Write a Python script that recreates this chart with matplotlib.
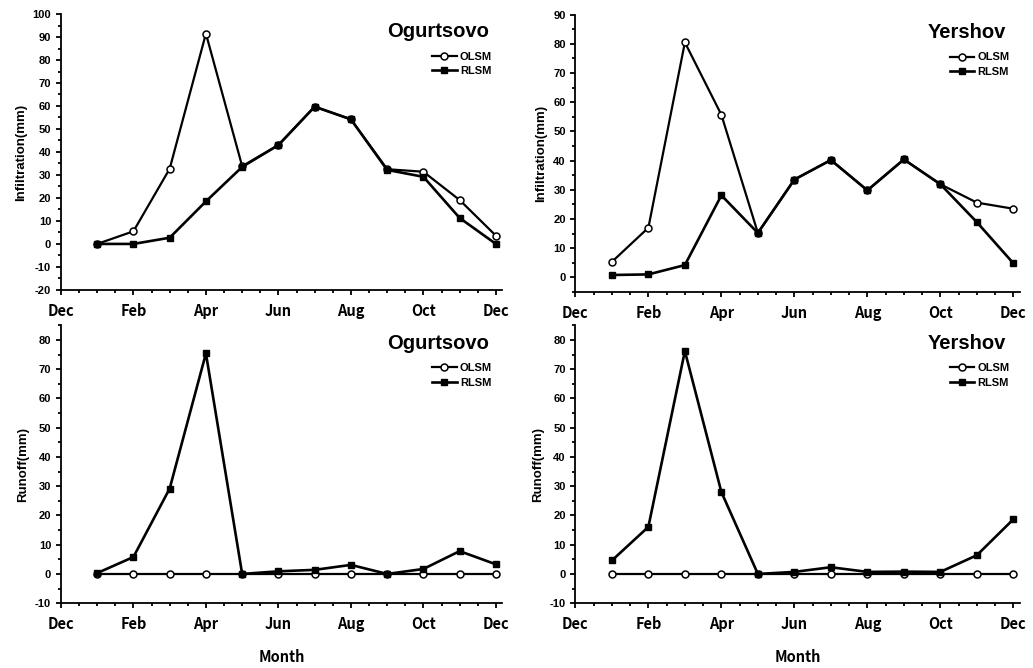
import numpy as np
import matplotlib.pyplot as plt
from matplotlib.ticker import MultipleLocator

plt.rcParams["font.family"] = ["Liberation Sans", "DejaVu Sans"]
plt.rcParams["font.weight"] = "bold"
plt.rcParams["axes.unicode_minus"] = False

# data
months = [1, 2, 3, 4, 5, 6, 7, 8, 9, 10, 11, 12]
tick_pos = [0, 2, 4, 6, 8, 10, 12]
tick_lab = ["Dec", "Feb", "Apr", "Jun", "Aug", "Oct", "Dec"]

ogu_inf_olsm = [0, 5.5, 32.7, 91.5, 33.8, 43, 59.7, 54.2, 32.5, 31.4, 19.1, 3.6]
ogu_inf_rlsm = [0, 0, 2.7, 18.5, 33.5, 43, 59.7, 54.2, 32.2, 29.2, 11.3, 0]
yer_inf_olsm = [5.3, 17, 80.5, 55.7, 15.2, 33.5, 40.2, 29.8, 40.4, 31.9, 25.6, 23.5]
yer_inf_rlsm = [0.8, 1, 4.2, 28.1, 15.2, 33.5, 40.2, 29.8, 40.4, 31.9, 18.9, 4.8]
ogu_run_olsm = [0, 0, 0, 0, 0, 0, 0, 0, 0, 0, 0, 0]
ogu_run_rlsm = [0.3, 5.8, 29.2, 75.4, 0, 0.9, 1.4, 3.1, 0, 1.7, 7.8, 3.3]
yer_run_olsm = [0, 0, 0, 0, 0, 0, 0, 0, 0, 0, 0, 0]
yer_run_rlsm = [4.6, 16.1, 76.2, 28, 0, 0.7, 2.3, 0.7, 0.8, 0.7, 6.4, 18.7]

panels = [
    ([0.059, 0.566, 0.427, 0.413], "Ogurtsovo", ogu_inf_olsm, ogu_inf_rlsm, "Infiltration(mm)", (-20, 100)),
    ([0.557, 0.563, 0.430, 0.415], "Yershov", yer_inf_olsm, yer_inf_rlsm, "Infiltration(mm)", (-5, 90)),
    ([0.059, 0.097, 0.427, 0.416], "Ogurtsovo", ogu_run_olsm, ogu_run_rlsm, "Runoff(mm)", (-10, 85)),
    ([0.557, 0.097, 0.430, 0.416], "Yershov", yer_run_olsm, yer_run_rlsm, "Runoff(mm)", (-10, 85)),
]

cjk = ["Noto Sans CJK SC", "DejaVu Sans"]
fig = plt.figure(figsize=(10.33, 6.68), dpi=100)

for i, (rect, name, olsm, rlsm, ylab, ylim) in enumerate(panels):
    ax = fig.add_axes(rect)
    ax.plot(months, olsm, color="k", lw=1.6, marker="o", ms=5,
            mfc="white", mec="k", mew=1.1, label="OLSM")
    ax.plot(months, rlsm, color="k", lw=1.9, marker="s", ms=5,
            mfc="k", mec="k", label="RLSM")
    ax.set_xlim(0, 12.17)
    ax.set_ylim(*ylim)
    ax.spines["top"].set_visible(False)
    ax.spines["right"].set_visible(False)
    ax.spines["left"].set_linewidth(1.3)
    ax.spines["bottom"].set_linewidth(1.3)
    ax.set_xticks(tick_pos)
    ax.set_xticklabels(tick_lab, family=cjk, fontsize=10.5, fontweight="bold")
    ax.xaxis.set_minor_locator(MultipleLocator(0.5))
    ax.yaxis.set_major_locator(MultipleLocator(10))
    ax.yaxis.set_minor_locator(MultipleLocator(5))
    ax.tick_params(which="both", direction="out", width=1.3)
    ax.tick_params(which="major", length=3.5)
    ax.tick_params(which="minor", length=2.5)
    ax.tick_params(axis="x", which="major", pad=6)
    ax.tick_params(axis="y", labelsize=8)
    ax.set_ylabel(ylab, fontweight="bold", fontsize=9.5)
    ax.text(0.97, 0.935, name, transform=ax.transAxes, ha="right", va="center",
            fontsize=14.5, fontweight="bold")
    ax.legend(loc="upper right", bbox_to_anchor=(1.0, 0.90), frameon=False,
              handlelength=2.2, handletextpad=0.3, labelspacing=0.4,
              prop={"weight": "bold", "size": 8})
    if i >= 2:
        ax.set_xlabel("Month", family=cjk, fontsize=10.5, fontweight="bold", labelpad=12)

fig.savefig("out.png", dpi=100)
